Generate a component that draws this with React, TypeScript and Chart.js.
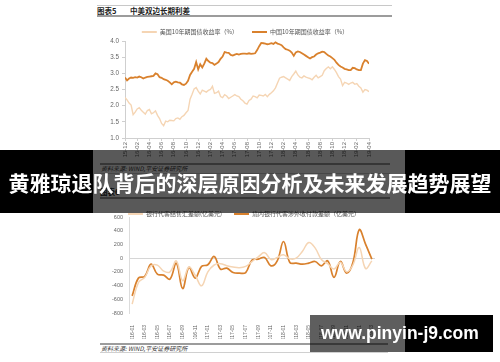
import React, { useEffect, useRef } from 'react';
import { Chart, registerables } from 'chart.js';

Chart.register(...registerables);

const LATIN = "'Liberation Sans', Arial, 'Noto Sans CJK SC', sans-serif";
const CJK = "'Noto Sans CJK SC', 'Liberation Sans', sans-serif";

// ---- Chart 1: 中美双边长期利差 (3 readings per month, 2015-12 .. 2019-04) ----
const topTickLabels = [
  '15-12', '16-02', '16-04', '16-06', '16-08', '16-10', '16-12',
  '17-02', '17-04', '17-06', '17-08', '17-10', '17-12',
  '18-02', '18-04', '18-06', '18-08', '18-10', '18-12',
  '19-02', '19-04',
];
const usLabel = '美国10年期国债收益率（%）';
const cnLabel = '中国10年期国债收益率（%）';
const usYield = [
  2.25, 2.18, 2.08, 2.02, 1.72, 1.80, 1.90, 1.94, 1.86, 1.80,
  1.74, 1.85, 1.88, 1.75, 1.78, 1.84, 1.70, 1.60, 1.45, 1.38,
  1.52, 1.50, 1.55, 1.54, 1.53, 1.60, 1.62, 1.58, 1.66, 1.70,
  1.78, 1.85, 2.20, 2.35, 2.52, 2.56, 2.45, 2.36, 2.48, 2.45,
  2.42, 2.47, 2.50, 2.60, 2.38, 2.40, 2.45, 2.28, 2.25, 2.34,
  2.30, 2.22, 2.26, 2.30, 2.34, 2.30, 2.28, 2.20, 2.15, 2.08,
  2.05, 2.16, 2.20, 2.30, 2.28, 2.24, 2.33, 2.32, 2.30, 2.35,
  2.28, 2.35, 2.40, 2.46, 2.55, 2.70, 2.85, 2.88, 2.90, 2.86,
  2.82, 2.78, 2.90, 2.98, 3.07, 2.95, 2.88, 2.86, 2.92, 2.88,
  2.86, 2.84, 2.80, 2.88, 2.94, 2.86, 2.90, 2.94, 3.08, 3.15,
  3.20, 3.14, 3.20, 3.12, 3.02, 2.90, 2.82, 2.62, 2.72, 2.70,
  2.66, 2.70, 2.72, 2.66, 2.68, 2.60, 2.55, 2.42, 2.50, 2.48,
  2.43,
];
const cnYield = [
  2.87, 2.78, 2.84, 2.87, 2.86, 2.88, 2.87, 2.90, 2.88, 2.84,
  2.87, 2.89, 2.90, 2.91, 2.92, 3.00, 2.97, 2.88, 2.86, 2.82,
  2.80, 2.77, 2.72, 2.66, 2.72, 2.74, 2.72, 2.71, 2.66, 2.64,
  2.68, 2.77, 2.95, 3.05, 3.14, 3.35, 3.12, 3.28, 3.18, 3.30,
  3.45, 3.38, 3.33, 3.32, 3.26, 3.30, 3.35, 3.45, 3.52, 3.66,
  3.64, 3.63, 3.57, 3.55, 3.58, 3.60, 3.58, 3.60, 3.61, 3.61,
  3.60, 3.62, 3.60, 3.61, 3.62, 3.72, 3.84, 3.94, 3.93, 3.92,
  3.90, 3.91, 3.93, 3.91, 3.96, 3.92, 3.90, 3.87, 3.80, 3.75,
  3.73, 3.70, 3.64, 3.54, 3.65, 3.68, 3.66, 3.62, 3.58, 3.54,
  3.50, 3.46, 3.50, 3.52, 3.58, 3.62, 3.64, 3.67, 3.66, 3.60,
  3.55, 3.52, 3.47, 3.42, 3.33, 3.26, 3.21, 3.18, 3.14, 3.12,
  3.10, 3.10, 3.17, 3.16, 3.12, 3.10, 3.10, 3.30, 3.41, 3.38,
  3.30,
];

// ---- Chart 2: monthly, 2016-01 .. 2019-03 ----
const bottomMonths = [
  '2016-01', '2016-02', '2016-03', '2016-04', '2016-05', '2016-06', '2016-07', '2016-08', '2016-09', '2016-10', '2016-11', '2016-12',
  '2017-01', '2017-02', '2017-03', '2017-04', '2017-05', '2017-06', '2017-07', '2017-08', '2017-09', '2017-10', '2017-11', '2017-12',
  '2018-01', '2018-02', '2018-03', '2018-04', '2018-05', '2018-06', '2018-07', '2018-08', '2018-09', '2018-10', '2018-11', '2018-12',
  '2019-01', '2019-02', '2019-03',
];
const fxLabel = '银行代客结售汇差额(亿美元)';
const cbLabel = '境内银行代客涉外收付款差额（亿美元）';
const fxSettlement = [
  -670, -355, -280, -112, -102, -190, -200, -40, -330, -130, -250, -404,
  -200, -100, -80, -110, -130, -140, -120, -50, 20, 80, -20, 10,
  50, -10, 0, 100, 229, 150, -20, -80, -160, -60, -200, -100,
  156, -150, -40,
];
const crossBorder = [
  -550, -290, -265, -88, -234, -248, -306, -73, -443, -136, -290, -120,
  -97, 24, -160, -146, -210, -219, -210, -29, -15, 10, -112, -40,
  243, -63, -73, -88, -73, -49, -112, -40, -280, -49, -219, -63,
  414, 204, -15,
];

const LIGHT = '#F5D5B4';
const ORANGE = '#D9812D';

function noStrokeLegend(chart: any) {
  return Chart.defaults.plugins.legend.labels.generateLabels(chart).map((l: any) => ({ ...l, lineWidth: 0 }));
}

// moves the legend box sideways after layout (the reference centres it over the plot)
const legendShift = {
  id: 'legendShift',
  afterLayout(chart: any, _args: any, opts: any) {
    const dx = (opts && opts.dx) || 0;
    if (chart.legend && dx) {
      chart.legend.left += dx;
      chart.legend.right += dx;
    }
  },
};

const abs = (s: React.CSSProperties): React.CSSProperties => ({ position: 'absolute', whiteSpace: 'nowrap', ...s });

export default function App() {
  const topRef = useRef<HTMLCanvasElement>(null);
  const botRef = useRef<HTMLCanvasElement>(null);

  useEffect(() => {
    const c1 = new Chart(topRef.current!, {
      type: 'line',
      plugins: [legendShift],
      data: {
        datasets: [
          {
            label: usLabel,
            data: usYield.map((v, i) => ({ x: i / 3, y: v })),
            borderColor: LIGHT, backgroundColor: LIGHT, borderWidth: 1.4, pointRadius: 0, tension: 0,
          },
          {
            label: cnLabel,
            data: cnYield.map((v, i) => ({ x: i / 3, y: v })),
            borderColor: ORANGE, backgroundColor: ORANGE, borderWidth: 1.8, pointRadius: 0, tension: 0,
          },
        ],
      },
      options: {
        animation: false,
        responsive: false,
        layout: { padding: { left: 13, right: 16, top: 0, bottom: 0 } },
        plugins: {
          legendShift: { dx: 9 },
          legend: {
            position: 'top',
            maxHeight: 26,
            labels: {
              boxWidth: 15, boxHeight: 2, padding: 14,
              font: { family: CJK, size: 6 }, color: '#555',
              generateLabels: noStrokeLegend,
            },
          },
          tooltip: { enabled: false },
        },
        scales: {
          x: {
            type: 'linear', min: 0, max: 40,
            afterFit: (s: any) => { s.height = 22; },
            ticks: {
              stepSize: 2, autoSkip: false, minRotation: 90, maxRotation: 90, padding: 1,
              font: { family: LATIN, size: 6 }, color: '#666',
              callback: (v: any) => topTickLabels[Math.round(Number(v) / 2)] ?? '',
            },
            grid: { drawOnChartArea: false, tickLength: 3, color: '#cfcfcf' },
            border: { color: '#cfcfcf' },
          },
          y: {
            min: 1, max: 4,
            afterFit: (s: any) => { s.width = 22; },
            ticks: {
              stepSize: 0.5, padding: 3,
              font: { family: LATIN, size: 6.3 }, color: '#666',
              callback: (v: any) => Number(v).toFixed(1),
            },
            grid: { drawOnChartArea: false, tickLength: 3, color: '#cfcfcf' },
            border: { color: '#cfcfcf' },
          },
        },
      },
    } as any);

    const c2 = new Chart(botRef.current!, {
      type: 'line',
      plugins: [legendShift],
      data: {
        labels: bottomMonths,
        datasets: [
          {
            label: fxLabel, data: fxSettlement,
            borderColor: LIGHT, backgroundColor: LIGHT, borderWidth: 1.5, pointRadius: 0, tension: 0.4,
          },
          {
            label: cbLabel, data: crossBorder,
            borderColor: ORANGE, backgroundColor: ORANGE, borderWidth: 1.7, pointRadius: 0, tension: 0.4,
          },
        ],
      },
      options: {
        animation: false,
        responsive: false,
        layout: { padding: { left: 13, right: 15, top: 0, bottom: 0 } },
        plugins: {
          legendShift: { dx: 5 },
          legend: {
            position: 'top',
            maxHeight: 18,
            labels: {
              boxWidth: 15, boxHeight: 2, padding: 12,
              font: { family: CJK, size: 6 }, color: '#555',
              generateLabels: noStrokeLegend,
            },
          },
          tooltip: { enabled: false },
        },
        scales: {
          x: {
            type: 'category', offset: true,
            afterFit: (s: any) => { s.height = 26; },
            ticks: {
              autoSkip: false, minRotation: 90, maxRotation: 90, padding: 4,
              font: { family: LATIN, size: 5 }, color: '#666',
              callback: (_v: any, i: number) => (i % 2 === 0 ? bottomMonths[i] : ''),
            },
            grid: { display: false },
            border: { display: false },
          },
          y: {
            min: -800, max: 600,
            afterFit: (s: any) => { s.width = 26; },
            ticks: { stepSize: 200, padding: 6, font: { family: LATIN, size: 5.5 }, color: '#666' },
            grid: {
              drawTicks: false,
              color: (ctx: any) => (ctx.tick && ctx.tick.value === 0 ? '#d6d6d6' : 'rgba(0,0,0,0)'),
            },
            border: { color: '#dcdcdc' },
          },
        },
      },
    } as any);

    return () => { c1.destroy(); c2.destroy(); };
  }, []);

  const srcText: React.CSSProperties = { fontFamily: CJK, fontSize: 6, fontStyle: 'italic', color: '#333', lineHeight: '6px' };

  return (
    <div style={{ position: 'fixed', left: 0, top: 0, width: 500, height: 362, background: '#fff', overflow: 'hidden' }}>
      {/* header of figure 5 */}
      <div style={abs({ left: 97, top: 5, width: 295, height: 1, background: '#c8c8c8' })} />
      <div style={abs({ left: 97, top: 7, fontFamily: CJK, fontSize: 7.5, fontWeight: 700, color: '#222', lineHeight: '8px' })}>图表5</div>
      <div style={abs({ left: 130, top: 7, fontFamily: CJK, fontSize: 7.5, fontWeight: 700, color: '#222', lineHeight: '8px' })}>中美双边长期利差</div>
      <div style={abs({ left: 97, top: 15, width: 295, height: 1.5, background: '#9c9c9c' })} />

      <canvas ref={topRef} width={295} height={145} style={abs({ left: 90, top: 15, width: 295, height: 145 })} />

      {/* source of figure 5 and header of figure 6 (mostly under the banner) */}
      <div style={abs({ left: 100, top: 163, width: 290, height: 1.5, background: '#9c9c9c' })} />
      <div style={abs({ left: 101, top: 166, ...srcText })}>资料来源: WIND,平安证券研究所</div>
      <div style={abs({ left: 100, top: 173, width: 290, height: 1, background: '#c8c8c8' })} />
      <div style={abs({ left: 100, top: 188, fontFamily: CJK, fontSize: 7.5, fontWeight: 700, color: '#222', lineHeight: '8px' })}>图表6</div>
      <div style={abs({ left: 100, top: 197, width: 290, height: 1.5, background: '#9c9c9c' })} />

      <canvas ref={botRef} width={300} height={140} style={abs({ left: 90, top: 199, width: 300, height: 140 })} />

      {/* source of figure 6 */}
      <div style={abs({ left: 100, top: 343, width: 288, height: 1.5, background: '#9c9c9c' })} />
      <div style={abs({ left: 101, top: 346, ...srcText })}>资料来源: WIND,平安证券研究所</div>
      <div style={abs({ left: 100, top: 352, width: 288, height: 1, background: '#d0d0d0' })} />

      {/* headline banner */}
      <div style={abs({ left: 0, top: 150, width: 93, height: 63, background: '#000', zIndex: 5 })} />
      <div style={abs({ left: 93, top: 150, width: 312, height: 63, background: 'rgba(0,0,0,0.65)', zIndex: 5 })} />
      <div style={abs({ left: 405, top: 150, width: 95, height: 63, background: '#000', zIndex: 5 })} />
      <div style={abs({ left: 0, top: 172, width: 500, textAlign: 'center', fontFamily: CJK, fontWeight: 700, fontSize: 21, lineHeight: '21px', color: '#fff', zIndex: 6 })}>
        黄雅琼退队背后的深层原因分析及未来发展趋势展望
      </div>

      {/* watermark */}
      <div style={abs({ left: 310, top: 315, width: 95, height: 37, background: 'rgba(0,0,0,0.63)', zIndex: 5 })} />
      <div style={abs({ left: 405, top: 315, width: 88, height: 37, background: '#000', zIndex: 5 })} />
      <div style={abs({ left: 321, top: 323, fontFamily: "'Liberation Sans', Arial, sans-serif", fontWeight: 700, fontSize: 17.5, lineHeight: '20px', color: '#fff', zIndex: 6 })}>
        www.pinyin-j9.com
      </div>
    </div>
  );
}
